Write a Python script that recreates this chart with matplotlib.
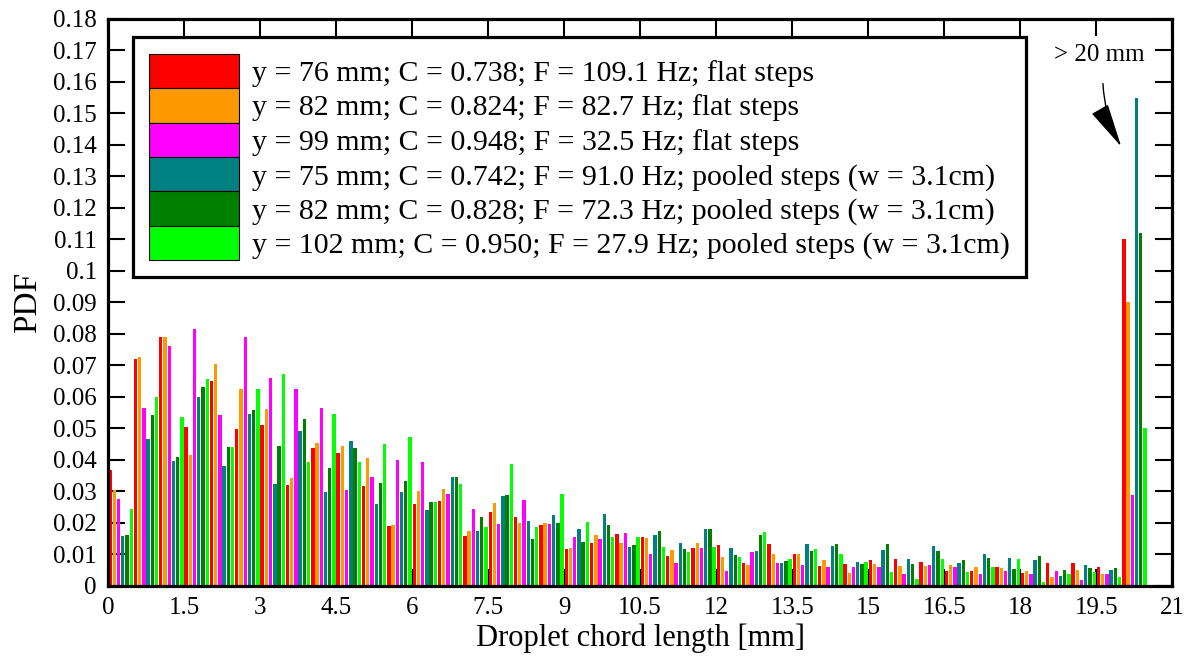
import matplotlib
matplotlib.use("Agg")
import matplotlib.pyplot as plt
from matplotlib.patches import Patch
import numpy as np

plt.rcParams['font.family'] = ['Liberation Serif', 'DejaVu Serif']

# 0.5 mm bins from 0 to 20 mm, last bin holds everything > 20 mm
bin_left = np.arange(41) * 0.5

labels = [
    "y = 76 mm; C = 0.738; F = 109.1 Hz; flat steps",
    "y = 82 mm; C = 0.824; F = 82.7 Hz; flat steps",
    "y = 99 mm; C = 0.948; F = 32.5 Hz; flat steps",
    "y = 75 mm; C = 0.742; F = 91.0 Hz; pooled steps (w = 3.1cm)",
    "y = 82 mm; C = 0.828; F = 72.3 Hz; pooled steps (w = 3.1cm)",
    "y = 102 mm; C = 0.950; F = 27.9 Hz; pooled steps (w = 3.1cm)",
]
colors = ["#ff0000", "#ff9900", "#ff00ff", "#008080", "#008000", "#00ff00"]

pdf_y76 = [0.0368, 0.0721, 0.0790, 0.0505, 0.0651, 0.0498, 0.0512, 0.0320, 0.0437, 0.0422,
           0.0317, 0.0190, 0.0260, 0.0270, 0.0160, 0.0235, 0.0219, 0.0193, 0.0116, 0.0135,
           0.0165, 0.0156, 0.0096, 0.0121, 0.0130, 0.0074, 0.0133, 0.0102, 0.0062, 0.0070,
           0.0083, 0.0086, 0.0076, 0.0048, 0.0048, 0.0061, 0.0041, 0.0072, 0.0072, 0.0059,
           0.110]
pdf_y82 = [0.0305, 0.0728, 0.0790, 0.0416, 0.0705, 0.0625, 0.0562, 0.0343, 0.0455, 0.0444,
           0.0406, 0.0195, 0.0302, 0.0308, 0.0175, 0.0262, 0.0200, 0.0200, 0.0121, 0.0163,
           0.0137, 0.0152, 0.0114, 0.0137, 0.0091, 0.0067, 0.0102, 0.0102, 0.0083, 0.0040,
           0.0070, 0.0063, 0.0063, 0.0067, 0.0061, 0.0056, 0.0048, 0.0029, 0.0051, 0.0037,
           0.090]
pdf_y99 = [0.0277, 0.0564, 0.0762, 0.0816, 0.0543, 0.0790, 0.0660, 0.0625, 0.0564, 0.0305,
           0.0346, 0.0400, 0.0394, 0.0292, 0.0244, 0.0197, 0.0272, 0.0196, 0.0156, 0.0149,
           0.0168, 0.0102, 0.0073, 0.0121, 0.0048, 0.0108, 0.0073, 0.0067, 0.0059, 0.0059,
           0.0059, 0.0038, 0.0067, 0.0059, 0.0039, 0.0047, 0.0038, 0.0047, 0.0019, 0.0038,
           0.029]
pdf_p75 = [0.0159, 0.0466, 0.0397, 0.0599, 0.0381, 0.0545, 0.0324, 0.0492, 0.0299, 0.0460,
           0.0260, 0.0299, 0.0241, 0.0346, 0.0174, 0.0286, 0.0205, 0.0226, 0.0181, 0.0229,
           0.0123, 0.0162, 0.0137, 0.0181, 0.0120, 0.0112, 0.0073, 0.0133, 0.0127, 0.0076,
           0.0113, 0.0086, 0.0127, 0.0073, 0.0101, 0.0088, 0.0081, 0.0031, 0.0066, 0.0051,
           0.155]
pdf_p82 = [0.0162, 0.0544, 0.0410, 0.0633, 0.0441, 0.0559, 0.0445, 0.0529, 0.0376, 0.0437,
           0.0327, 0.0333, 0.0267, 0.0345, 0.0220, 0.0290, 0.0150, 0.0201, 0.0140, 0.0193,
           0.0130, 0.0175, 0.0117, 0.0181, 0.0099, 0.0162, 0.0079, 0.0112, 0.0133, 0.0070,
           0.0133, 0.0069, 0.0112, 0.0083, 0.0088, 0.0054, 0.0096, 0.0051, 0.0056, 0.0057,
           0.112]
pdf_p102 = [0.0244, 0.0601, 0.0538, 0.0656, 0.0442, 0.0625, 0.0673, 0.0394, 0.0546, 0.0394,
            0.0451, 0.0474, 0.0268, 0.0323, 0.0188, 0.0388, 0.0187, 0.0292, 0.0204, 0.0157,
            0.0156, 0.0124, 0.0109, 0.0124, 0.0092, 0.0171, 0.0085, 0.0117, 0.0102, 0.0076,
            0.0044, 0.0022, 0.0085, 0.0044, 0.0061, 0.0085, 0.0013, 0.0037, 0.0043, 0.0029,
            0.050]

series = [pdf_y76, pdf_y82, pdf_y99, pdf_p75, pdf_p82, pdf_p102]

fig = plt.figure(figsize=(11.84, 6.61), dpi=100)
ax = fig.add_axes([0.0912, 0.1135, 0.8990, 0.8578])

slot = 0.5 / 6
for i, (vals, c) in enumerate(zip(series, colors)):
    ax.bar(bin_left + (i + 0.5) * slot, vals, width=slot * 0.8, color=c, linewidth=0)

ax.set_xlim(0, 21)
ax.set_ylim(0, 0.18)
ax.set_xticks(np.arange(0, 21.1, 1.5))
ax.set_xticklabels(["0", "1.5", "3", "4.5", "6", "7.5", "9", "10.5", "12", "13.5",
                    "15", "16.5", "18", "19.5", "21"])
ax.set_yticks(np.arange(0, 0.181, 0.01))
ax.set_yticklabels(["0"] + ["%g" % round(v, 2) for v in np.arange(0.01, 0.181, 0.01)])
ax.set_axisbelow(True)
ax.tick_params(direction="in", length=12, width=1.5, labelsize=18, pad=8,
               top=True, right=True)
for s in ax.spines.values():
    s.set_linewidth(2.3)

ax.set_xlabel("Droplet chord length [mm]", fontsize=22, labelpad=3)
ax.set_ylabel("PDF", fontsize=24, labelpad=7)

handles = [Patch(facecolor=c, edgecolor="black", linewidth=0.8) for c in colors]
leg = ax.legend(handles, labels, loc="upper left", bbox_to_anchor=(0.0235, 0.968),
                borderaxespad=0, fontsize=21.5, handlelength=3.0, handleheight=1.40,
                labelspacing=0, handletextpad=0.42, borderpad=0.55, fancybox=False,
                framealpha=1, edgecolor="black")
leg.get_frame().set_linewidth(2.3)

ax.text(19.55, 0.1685, "> 20 mm", fontsize=18, ha="center", va="center")
ax.annotate("", xy=(19.99, 0.1395), xytext=(19.63, 0.1595),
            arrowprops=dict(arrowstyle="-|>,head_length=0.8,head_width=0.17",
                            connectionstyle="arc3,rad=0.12", shrinkA=0, shrinkB=0,
                            color="black", lw=1, mutation_scale=35))

plt.savefig("out.png", dpi=100)
